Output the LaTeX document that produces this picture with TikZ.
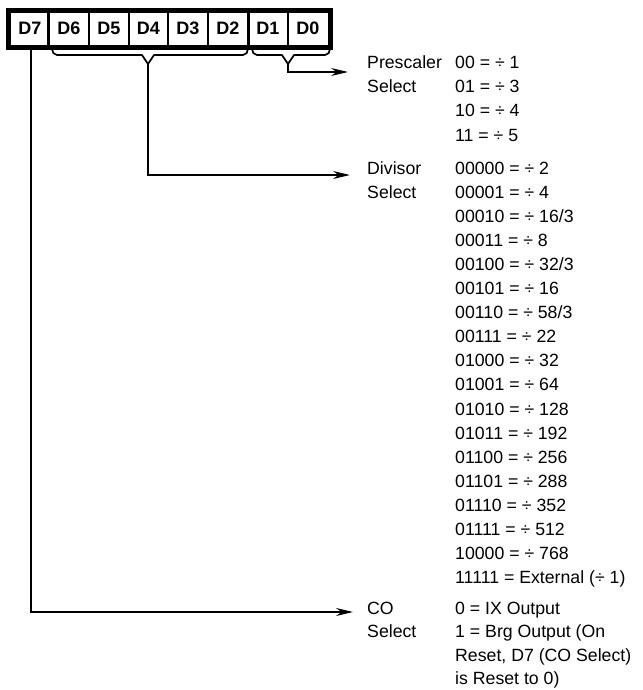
\documentclass[tikz,border=0pt]{standalone}
\usepackage{fontspec}
\setmainfont{Liberation Sans}
\usetikzlibrary{arrows.meta}
\begin{document}
\begin{tikzpicture}[x=1pt,y=-1pt,
  txt/.style={font=\fontsize{17.7}{21}\selectfont, inner sep=0pt, anchor=base west},
  bitlbl/.style={font=\fontsize{18}{20}\selectfont\bfseries, inner sep=0pt, anchor=center},
  brace/.style={line width=1.7pt, line join=round},
  conn/.style={line width=1.3pt, -{Stealth[length=17pt,width=8pt]}}]
\useasboundingbox (0,0) rectangle (642,690);
% register
\draw[line width=5pt] (8.5,10.5) rectangle (330.5,47.5);
\draw[line width=3pt] (48,10.5) -- (48,47.5);
\draw[line width=3pt] (248,10.5) -- (248,47.5);
\foreach \xx in {89,129,168,208,288} \draw[line width=1.3pt] (\xx,10.5) -- (\xx,47.5);
\foreach \nm/\xx in {D7/30,D6/69,D5/109,D4/148.5,D3/188,D2/228,D1/268,D0/308}
  \node[bitlbl] (\nm) at (\xx,28) {\nm};
% braces
\draw[brace] (52,49) to[out=-90,in=180] (57,55) -- (142,55) -- (148,64) -- (154,55) -- (243,55) to[out=0,in=-90] (248,49);
\draw[brace] (252,49) to[out=-90,in=180] (257,55) -- (282,55) -- (288,64) -- (294,55) -- (325,55) to[out=0,in=-90] (330,49);
\coordinate (tipA) at (148,64);
\coordinate (tipB) at (288,64);
\coordinate (b7) at (31,50);
\coordinate (endP) at (348,72);
\coordinate (endD) at (350,175);
\coordinate (endC) at (353,612);
\draw[conn] (tipB) |- (endP);
\draw[conn] (tipA) |- (endD);
\draw[conn] (b7) |- (endC);
% Prescaler
\node[txt] (pl1) at (367,69) {Prescaler};
\node[txt] (pl2) at (367,93) {Select};
\foreach \v [count=\i] in {{00 = ÷ 1},{01 = ÷ 3},{10 = ÷ 4},{11 = ÷ 5}}
  \node[txt] (pv\i) at (455,{69+(\i-1)*24}) {\v};
% Divisor
\node[txt] (dl1) at (367,174) {Divisor};
\node[txt] (dl2) at (367,198.1) {Select};
\foreach \v [count=\i] in {{00000 = ÷ 2},{00001 = ÷ 4},{00010 = ÷ 16/3},{00011 = ÷ 8},{00100 = ÷ 32/3},{00101 = ÷ 16},{00110 = ÷ 58/3},{00111 = ÷ 22},{01000 = ÷ 32},{01001 = ÷ 64},{01010 = ÷ 128},{01011 = ÷ 192},{01100 = ÷ 256},{01101 = ÷ 288},{01110 = ÷ 352},{01111 = ÷ 512},{10000 = ÷ 768},{11111 = External (÷ 1)}}
  \node[txt] (dv\i) at (455,{174+(\i-1)*24.1}) {\v};
% CO
\node[txt] (cl1) at (367,614) {CO};
\node[txt] (cl2) at (367,637.5) {Select};
\foreach \v [count=\i] in {{0 = IX Output},{1 = Brg Output (On},{Reset, D7 (CO Select)},{is Reset to 0)}}
  \node[txt] (cv\i) at (455,{614+(\i-1)*23.5}) {\v};
\end{tikzpicture}
\end{document}
